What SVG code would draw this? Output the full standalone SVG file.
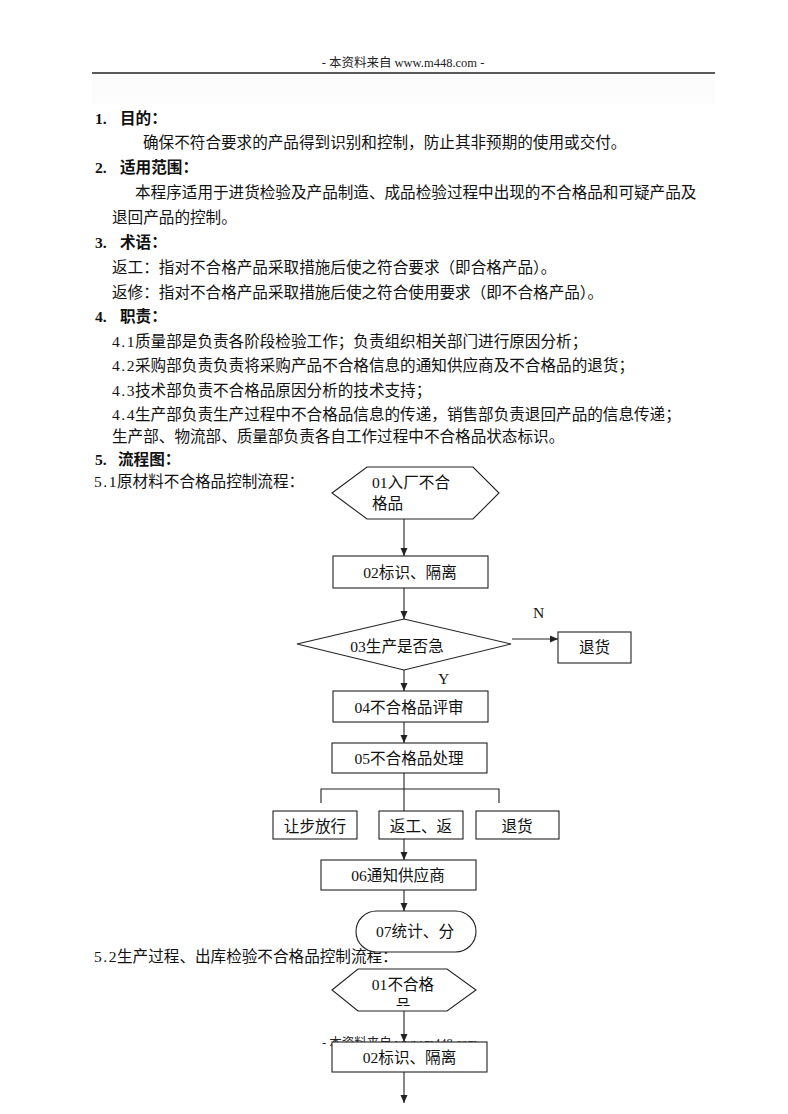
<svg xmlns="http://www.w3.org/2000/svg" width="788" height="1114" viewBox="0 0 788 1114">
<style>
.t{font-family:"Liberation Serif","Noto Sans CJK SC",serif;font-size:15.6px;fill:#111;}
.b{font-weight:bold;}
.h{font-family:"Liberation Serif","Noto Sans CJK SC",serif;font-size:12.5px;fill:#222;}
.c{text-anchor:middle;}
.n{fill:#fff;stroke:#222;stroke-width:1.1;}
.l{fill:none;stroke:#222;stroke-width:1.1;}
</style>
<defs>
<marker id="ah" markerUnits="userSpaceOnUse" markerWidth="8" markerHeight="8" refX="8" refY="4" orient="auto">
<path d="M0,0.5 L8,4 L0,7.5 z" fill="#222"/>
</marker>
<clipPath id="hexclip"><rect x="330" y="960" width="150" height="46"/></clipPath>
</defs>
<rect width="788" height="1114" fill="#fff"/>
<!-- header -->
<text class="h c" x="403" y="67">- 本资料来自 www.m448.com -</text>
<line x1="92" y1="73" x2="715" y2="73" stroke="#222" stroke-width="1.3"/>
<rect x="92" y="74.5" width="623" height="29" fill="#fcfcfc"/>
<!-- body text -->
<g id="body">
<text class="t" x="95" y="124" font-weight="600">1.</text><text class="t b" x="120" y="124">目的：</text>
<text class="t" x="143" y="148">确保不符合要求的产品得到识别和控制，防止其非预期的使用或交付。</text>
<text class="t" x="95" y="173" font-weight="600">2.</text><text class="t b" x="120" y="173">适用范围：</text>
<text class="t" x="135" y="198">本程序适用于进货检验及产品制造、成品检验过程中出现的不合格品和可疑产品及</text>
<text class="t" x="112" y="223">退回产品的控制。</text>
<text class="t" x="95" y="248" font-weight="600">3.</text><text class="t b" x="120" y="248">术语：</text>
<text class="t" x="112" y="273">返工：指对不合格产品采取措施后使之符合要求（即合格产品）。</text>
<text class="t" x="112" y="298">返修：指对不合格产品采取措施后使之符合使用要求（即不合格产品）。</text>
<text class="t" x="95" y="322" font-weight="600">4.</text><text class="t b" x="120" y="322">职责：</text>
<text class="t" x="112" y="347" letter-spacing="1.5">4.1</text><text class="t" x="135" y="347">质量部是负责各阶段检验工作；负责组织相关部门进行原因分析；</text>
<text class="t" x="112" y="371" letter-spacing="1.5">4.2</text><text class="t" x="135" y="371">采购部负责负责将采购产品不合格信息的通知供应商及不合格品的退货；</text>
<text class="t" x="112" y="396" letter-spacing="1.5">4.3</text><text class="t" x="135" y="396">技术部负责不合格品原因分析的技术支持；</text>
<text class="t" x="112" y="420" letter-spacing="1.5">4.4</text><text class="t" x="135" y="420">生产部负责生产过程中不合格品信息的传递，销售部负责退回产品的信息传递；</text>
<text class="t" x="112" y="442">生产部、物流部、质量部负责各自工作过程中不合格品状态标识。</text>
<text class="t" x="95" y="465" font-weight="600">5.</text><text class="t b" x="118" y="465">流程图：</text>
<text class="t" x="94" y="487" letter-spacing="1.5">5.1</text><text class="t" x="117" y="487">原材料不合格品控制流程：</text>
<text class="t" x="94" y="962" letter-spacing="1.5">5.2</text><text class="t" x="117" y="962">生产过程、出库检验不合格品控制流程：</text>
<text class="h" x="322" y="1047">- 本资料来自 www.m448.com -</text>
</g>
<!-- connectors -->
<g id="connectors">
<line class="l" x1="404" y1="519" x2="404" y2="556" marker-end="url(#ah)"/>
<line class="l" x1="404" y1="588" x2="404" y2="619" marker-end="url(#ah)"/>
<line class="l" x1="512" y1="639" x2="558" y2="639" marker-end="url(#ah)"/>
<line class="l" x1="404" y1="670" x2="404" y2="691" marker-end="url(#ah)"/>
<line class="l" x1="404" y1="722" x2="404" y2="743" marker-end="url(#ah)"/>
<line class="l" x1="404" y1="773" x2="404" y2="860" marker-end="url(#ah)"/>
<polyline class="l" points="321,803 321,789 499,789 499,803"/>
<line class="l" x1="404" y1="890" x2="404" y2="911" marker-end="url(#ah)"/>
<line class="l" x1="404" y1="1011" x2="404" y2="1042" marker-end="url(#ah)"/>
<line class="l" x1="404" y1="1072" x2="404" y2="1103" marker-end="url(#ah)"/>
<text class="t" x="533" y="618">N</text>
<text class="t" x="438" y="684">Y</text>
</g>
<!-- nodes -->
<g id="n01">
<polygon class="n" points="332,493 367,467 473,467 499,493 473,519 367,519"/>
<text class="t" x="372" y="488">01入厂不合</text>
<text class="t" x="372" y="509">格品</text>
</g>
<g id="n02">
<rect class="n" x="333" y="556" width="155" height="32"/>
<text class="t c" x="410" y="578">02标识、隔离</text>
</g>
<g id="n03">
<polygon class="n" points="297,644 404,619 511,644 404,670"/>
<text class="t c" x="397" y="652">03生产是否急</text>
</g>
<g id="n03r">
<rect class="n" x="558" y="632" width="73" height="31"/>
<text class="t c" x="594.5" y="653">退货</text>
</g>
<g id="n04">
<rect class="n" x="333" y="691" width="155" height="31"/>
<text class="t c" x="409" y="713">04不合格品评审</text>
</g>
<g id="n05">
<rect class="n" x="332" y="743" width="155" height="30"/>
<text class="t c" x="409" y="764">05不合格品处理</text>
</g>
<g id="n05a">
<rect class="n" x="273" y="811" width="84" height="28"/>
<text class="t c" x="315" y="832">让步放行</text>
</g>
<g id="n05b">
<rect class="n" x="379" y="811" width="84" height="28"/>
<text class="t c" x="421" y="832">返工、返</text>
</g>
<g id="n05c">
<rect class="n" x="476" y="811" width="83" height="28"/>
<text class="t c" x="517" y="832">退货</text>
</g>
<g id="n06">
<rect class="n" x="321" y="860" width="155" height="30"/>
<text class="t c" x="398" y="881">06通知供应商</text>
</g>
<g id="n07">
<rect class="n" x="356" y="911" width="120" height="41" rx="20.5"/>
<text class="t c" x="415" y="937">07统计、分</text>
</g>
<g id="m01">
<polygon class="n" points="332,990 358,969 447,969 476,990 447,1011 358,1011"/>
<text class="t c" x="403" y="990">01不合格</text>
<text class="t c" x="403" y="1011" clip-path="url(#hexclip)">品</text>
</g>
<g id="m02">
<rect class="n" x="332" y="1042" width="155" height="30"/>
<text class="t c" x="409.5" y="1063">02标识、隔离</text>
</g>
</svg>
